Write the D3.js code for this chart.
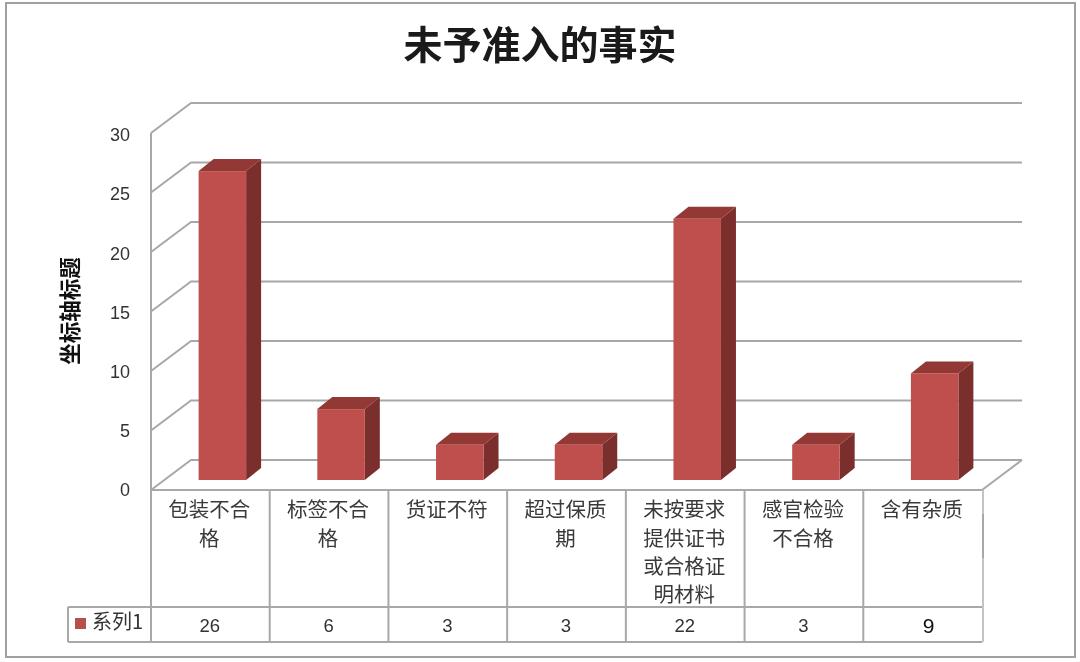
<!DOCTYPE html>
<html>
<head>
<meta charset="utf-8">
<script src="https://cdn.jsdelivr.net/npm/d3@7"></script>
<style>
  html, body { margin: 0; padding: 0; background: #fff; }
  svg { display: block; filter: blur(0.45px); }
  text { font-family: "Liberation Sans", "Noto Sans CJK SC", sans-serif; fill: #333; }
</style>
</head>
<body>
<svg id="chart"></svg>
<script>
const categories = ["包装不合格", "标签不合格", "货证不符", "超过保质期", "未按要求提供证书或合格证明材料", "感官检验不合格", "含有杂质"];
const labelLines = [["包装不合", "格"], ["标签不合", "格"], ["货证不符"], ["超过保质", "期"], ["未按要求", "提供证书", "或合格证", "明材料"], ["感官检验", "不合格"], ["含有杂质"]];
const values = [26, 6, 3, 3, 22, 3, 9];
const yTicks = [0, 5, 10, 15, 20, 25, 30];
const seriesName = "系列1";
const chartTitle = "未予准入的事实";
const axisTitle = "坐标轴标题";

const width = 1080, height = 662;
const plotLeft = 151, plotRight = 982, plotTop = 133, plotBottom = 490;
const rowBottom = 607, tableBottom = 642, legendLeft = 68;
const wallDx = 40, wallDy = -30;   // floor depth
const barDx = 15, barDy = -12;     // bar depth
const barOffX = 12.5, barOffY = -10; // bar sits in the middle of the floor

const lineColor = "#a8a8a8";

const svg = d3.select("#chart").attr("width", width).attr("height", height);

const x = d3.scaleBand().domain(categories).range([plotLeft, plotRight]).paddingInner(0.6).paddingOuter(0.3);
const col = d3.scaleBand().domain(categories).range([plotLeft, plotRight]);
const y = d3.scaleLinear().domain([0, 30]).range([plotBottom, plotTop]);
// tick labels sit a little off the gridlines in the picture
const yLabels = y.copy().range([plotBottom - 1, plotTop + 1]);

// outer frame
svg.append("rect")
  .attr("x", 6).attr("y", 3).attr("width", 1069).attr("height", 654)
  .attr("fill", "#fff").attr("stroke", "#a0a0a0").attr("stroke-width", 2);

// title
svg.append("text")
  .attr("x", 540).attr("y", 59)
  .attr("text-anchor", "middle")
  .style("font-family", "'Noto Sans CJK SC'")
  .style("font-size", "39px").style("font-weight", 700).style("fill", "#1a1a1a")
  .text(chartTitle);

// axis title
svg.append("text")
  .attr("transform", "translate(70,311) rotate(-90)")
  .attr("text-anchor", "middle").attr("dy", "0.36em")
  .style("font-family", "'Noto Sans CJK SC'")
  .style("font-size", "21.5px").style("font-weight", 700).style("fill", "#111")
  .text(axisTitle);

// walls and gridlines
const grid = svg.append("g").attr("fill", "none").attr("stroke", lineColor).attr("stroke-width", 2);
grid.append("line").attr("x1", plotLeft).attr("x2", plotLeft).attr("y1", y(30)).attr("y2", y(0));
yTicks.forEach(t => {
  grid.append("path").attr("d", d3.line()([
    [plotLeft, y(t)], [plotLeft + wallDx, y(t) + wallDy], [plotRight + wallDx, y(t) + wallDy]
  ]));
});
grid.append("path").attr("d", d3.line()([
  [plotRight + wallDx, y(0) + wallDy], [plotRight, y(0)]
]));

// y axis
const yAxis = svg.append("g")
  .attr("transform", `translate(${plotLeft - 21},1)`)
  .call(d3.axisLeft(yLabels).tickValues(yTicks).tickSize(0).tickPadding(0));
yAxis.select(".domain").remove();
yAxis.selectAll("text").style("font-size", "18px").style("font-family", "'Liberation Sans'").style("fill", "#333");

// bars
const bars = svg.append("g").selectAll("g").data(values).join("g");
const barW = x.bandwidth();
const fx = (d, i) => x(categories[i]) + barOffX - 0.5;
const fy = d => y(d) + barOffY + 0.5;
const base = y(0) + barOffY;

bars.append("path").attr("fill", "#7b2f2d")
  .attr("d", (d, i) => d3.line()([
    [fx(d, i) + barW, fy(d)], [fx(d, i) + barW + barDx, fy(d) + barDy],
    [fx(d, i) + barW + barDx, base + barDy], [fx(d, i) + barW, base]
  ]) + "Z");
bars.append("path").attr("fill", "#923835")
  .attr("d", (d, i) => d3.line()([
    [fx(d, i), fy(d)], [fx(d, i) + barDx, fy(d) + barDy],
    [fx(d, i) + barW + barDx, fy(d) + barDy], [fx(d, i) + barW, fy(d)]
  ]) + "Z");
bars.append("rect").attr("fill", "#bf4f4c")
  .attr("x", fx).attr("y", fy)
  .attr("width", barW).attr("height", d => base - fy(d));

// data table
const table = svg.append("g").attr("fill", "none").attr("stroke", lineColor).attr("stroke-width", 2);
table.append("line").attr("x1", plotLeft).attr("x2", plotRight).attr("y1", plotBottom).attr("y2", plotBottom);
table.append("line").attr("x1", legendLeft).attr("x2", plotRight).attr("y1", rowBottom).attr("y2", rowBottom);
table.append("line").attr("x1", legendLeft).attr("x2", plotRight).attr("y1", tableBottom).attr("y2", tableBottom);
table.append("line").attr("x1", legendLeft).attr("x2", legendLeft).attr("y1", rowBottom).attr("y2", tableBottom);
categories.forEach(c => {
  table.append("line").attr("x1", col(c)).attr("x2", col(c)).attr("y1", plotBottom).attr("y2", tableBottom);
});
table.append("line").attr("x1", plotRight + 1).attr("x2", plotRight + 1).attr("y1", plotBottom).attr("y2", tableBottom)
  .attr("stroke", "#c4c4c4");
table.append("line").attr("x1", plotRight + 1).attr("x2", plotRight + 1).attr("y1", 514).attr("y2", 558);

// category labels
svg.append("g").selectAll("g").data(labelLines).join("g")
  .each(function (lines, i) {
    d3.select(this).selectAll("text").data(lines).join("text")
      .attr("x", col(categories[i]) + col.bandwidth() / 2 - 1)
      .attr("y", (d, j) => 510 + j * 28.3)
      .attr("dy", "0.36em")
      .attr("text-anchor", "middle")
      .style("font-family", "'Noto Sans CJK SC'")
      .style("font-size", "20.5px").style("fill", "#3a3a3a")
      .text(d => d);
  });

// value row
svg.append("g").selectAll("text").data(values).join("text")
  .attr("x", (d, i) => col(categories[i]) + col.bandwidth() / 2 + (i === 6 ? 6 : -0.5))
  .attr("y", 625).attr("dy", "0.36em")
  .attr("text-anchor", "middle")
  .style("font-size", (d, i) => i === 6 ? "21px" : "18.5px")
  .style("fill", (d, i) => i === 6 ? "#111" : "#333")
  .text(d => d);

// legend key
svg.append("rect").attr("x", 75).attr("y", 618).attr("width", 11).attr("height", 11).attr("fill", "#b5504f");
svg.append("text").attr("x", 92).attr("y", 622).attr("dy", "0.36em")
  .style("font-family", "'Noto Sans CJK SC'").style("font-size", "20px").style("fill", "#333")
  .text(seriesName);
</script>
</body>
</html>
